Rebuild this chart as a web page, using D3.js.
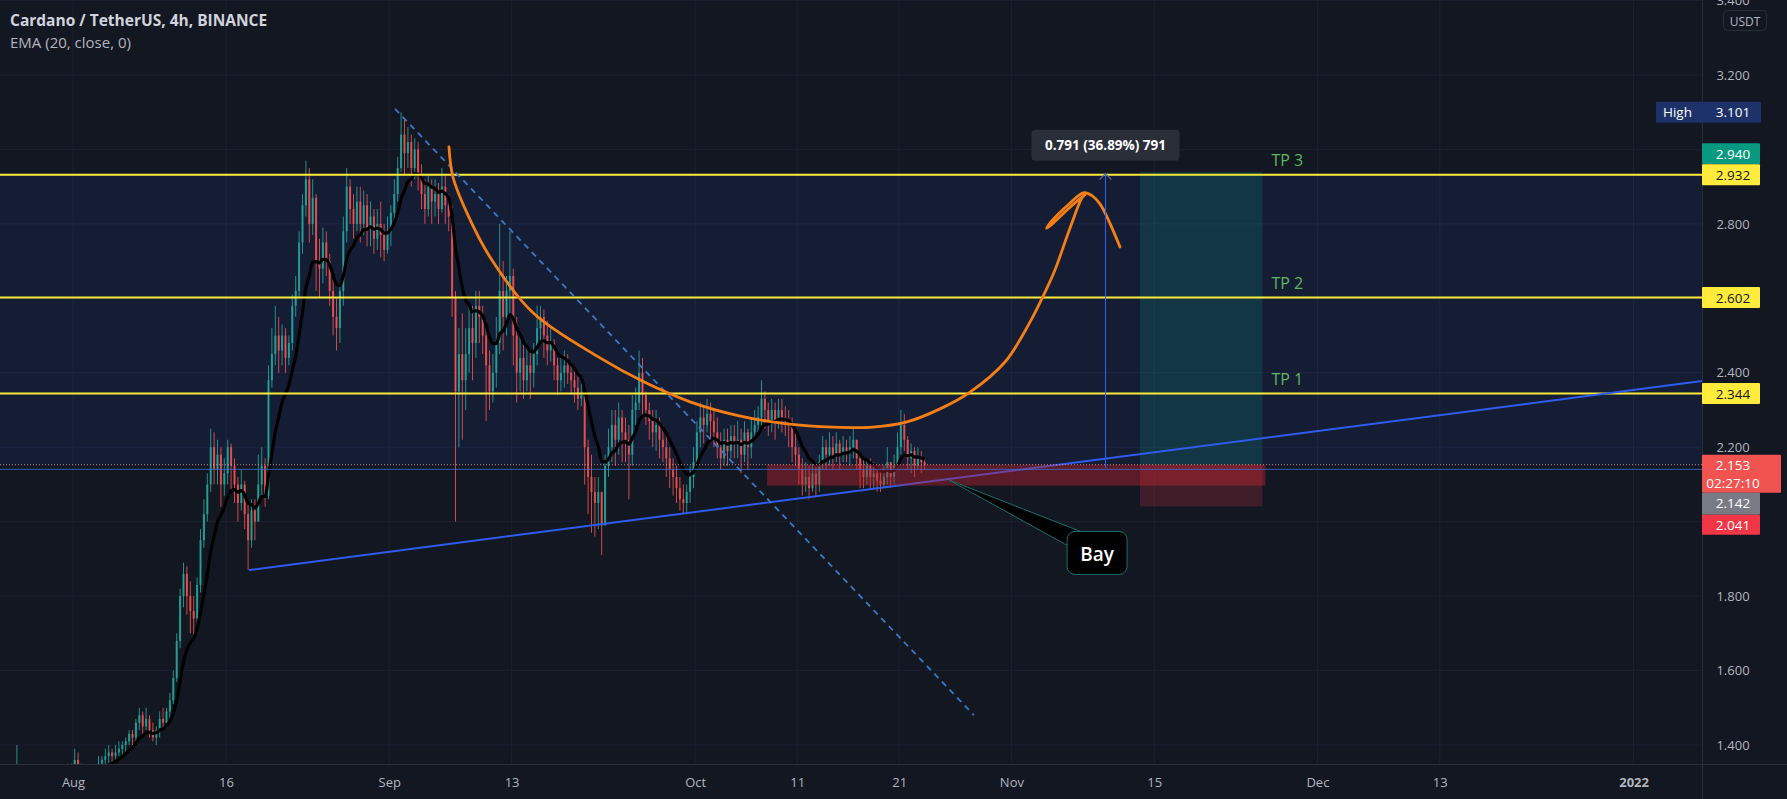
<!DOCTYPE html>
<html><head><meta charset="utf-8">
<script src="https://cdn.jsdelivr.net/npm/d3@7"></script>
<style>html,body{margin:0;padding:0;background:#131722;overflow:hidden}svg{display:block}</style>
</head><body><svg id="c" width="1787" height="799"></svg>
<script>
// ---------- DATA ----------
const startDate = Date.UTC(2021, 6, 26);   // first bar: Jul 26 2021 00:00 UTC
const barHours = 8;
const firstOpen = 1.25;
const closes = [
 1.27,1.33,1.30, 1.26,1.24,1.30, 1.31,1.29,1.30, 1.30,1.29,1.31, 1.28,1.29,1.32, 1.32,1.34,1.33, // Jul 26-31
 1.36,1.34,1.33, 1.32,1.30,1.31, 1.33,1.35,1.36, 1.37,1.38,1.37, 1.38,1.39,1.40, 1.41,1.43,1.42, // Aug 1-6
 1.46,1.48,1.45, 1.47,1.44,1.42, 1.44,1.47,1.46, 1.49,1.52,1.58, 1.68,1.80,1.86, 1.80,1.76,1.74, // Aug 7-12
 1.83,1.95,2.02, 2.10,2.20,2.14, 2.18,2.10,2.13, 2.20,2.15,2.10, 2.05,2.10,2.02, 1.95,2.03,2.00, // Aug 13-18
 2.10,2.15,2.07, 2.38,2.45,2.50, 2.46,2.50,2.44, 2.48,2.58,2.62, 2.75,2.85,2.92, 2.80,2.87,2.70, // Aug 19-24
 2.68,2.75,2.70, 2.62,2.55,2.52, 2.62,2.78,2.90, 2.84,2.80,2.86, 2.80,2.85,2.79, 2.82,2.76,2.80, // Aug 25-30
 2.77,2.73,2.78, 2.83,2.88,2.95, 3.04,2.99,3.02, 2.95,3.00,2.93, 2.88,2.84,2.90, 2.86,2.88,2.84, // Aug 31-Sep 5
 2.90,2.85,2.82, 2.60,2.35,2.45, 2.38,2.45,2.52, 2.48,2.58,2.55, 2.50,2.42,2.35, 2.40,2.48,2.62, // Sep 6-11
 2.55,2.62,2.66, 2.50,2.40,2.44, 2.38,2.42,2.40, 2.45,2.52,2.55, 2.50,2.46,2.48, 2.42,2.38,2.40, // Sep 12-17
 2.42,2.40,2.38, 2.36,2.33,2.34, 2.20,2.12,2.08, 2.05,2.08,1.99, 2.15,2.20,2.26, 2.22,2.28,2.24, // Sep 18-23
 2.22,2.18,2.30, 2.32,2.40,2.34, 2.30,2.27,2.24, 2.26,2.22,2.20, 2.17,2.14,2.12, 2.09,2.06,2.05, // Sep 24-29
 2.08,2.12,2.16, 2.24,2.28,2.26, 2.29,2.27,2.24, 2.20,2.17,2.22, 2.19,2.23,2.21, 2.22,2.18,2.24, // Sep 30-Oct 5
 2.20,2.24,2.26, 2.28,2.33,2.30, 2.27,2.30,2.27, 2.30,2.28,2.27, 2.26,2.20,2.18, 2.14,2.10,2.12, // Oct 6-11
 2.09,2.13,2.10, 2.16,2.20,2.18, 2.20,2.18,2.21, 2.18,2.20,2.19, 2.20,2.22,2.17, 2.14,2.12,2.15, // Oct 12-17
 2.12,2.13,2.11, 2.10,2.12,2.16, 2.12,2.15,2.20, 2.26,2.22,2.17, 2.19,2.15,2.17, 2.16,2.153        // Oct 18-23
];
const highs = [
 1.28,1.40,1.34, 1.31,1.28,1.31, 1.33,1.32,1.32, 1.32,1.31,1.33, 1.32,1.30,1.33, 1.34,1.35,1.35,
 1.39,1.38,1.35, 1.34,1.33,1.33, 1.34,1.37,1.37, 1.39,1.40,1.39, 1.40,1.41,1.41, 1.42,1.44,1.44,
 1.47,1.50,1.49, 1.50,1.48,1.46, 1.45,1.49,1.50, 1.50,1.54,1.60, 1.70,1.82,1.89, 1.88,1.84,1.80,
 1.85,1.98,2.06, 2.13,2.25,2.24, 2.22,2.20,2.17, 2.22,2.21,2.17, 2.12,2.14,2.11, 2.05,2.06,2.06,
 2.18,2.20,2.17, 2.42,2.52,2.58, 2.55,2.53,2.52, 2.50,2.61,2.66, 2.78,2.88,2.97, 2.95,2.92,2.88,
 2.76,2.79,2.78, 2.72,2.65,2.60, 2.64,2.82,2.95, 2.92,2.88,2.90, 2.90,2.89,2.88, 2.86,2.84,2.84,
 2.86,2.80,2.82, 2.85,2.92,2.98, 3.10,3.08,3.06, 3.04,3.03,3.02, 2.96,2.92,2.93, 2.92,2.92,2.91,
 2.95,2.93,2.88, 2.85,2.62,2.52, 2.56,2.52,2.58, 2.58,2.62,2.62, 2.58,2.54,2.46, 2.45,2.55,2.80,
 2.70,2.66,2.78, 2.68,2.55,2.50, 2.48,2.47,2.46, 2.48,2.58,2.58, 2.57,2.54,2.52, 2.49,2.44,2.44,
 2.46,2.45,2.43, 2.41,2.39,2.38, 2.35,2.22,2.18, 2.12,2.12,2.08, 2.18,2.25,2.30, 2.30,2.32,2.30,
 2.28,2.26,2.34, 2.36,2.46,2.44, 2.35,2.32,2.30, 2.30,2.28,2.26, 2.23,2.20,2.17, 2.15,2.12,2.10,
 2.10,2.15,2.20, 2.27,2.32,2.31, 2.33,2.32,2.30, 2.28,2.24,2.25, 2.25,2.26,2.26, 2.27,2.25,2.27,
 2.25,2.28,2.30, 2.31,2.38,2.35, 2.32,2.33,2.32, 2.33,2.33,2.31, 2.30,2.28,2.24, 2.20,2.17,2.16,
 2.15,2.16,2.15, 2.18,2.23,2.22, 2.24,2.23,2.24, 2.22,2.23,2.22, 2.23,2.25,2.22, 2.18,2.17,2.17,
 2.17,2.16,2.15, 2.14,2.15,2.20, 2.16,2.18,2.24, 2.30,2.29,2.23, 2.21,2.20,2.20, 2.19,2.17
];
const lows = [
 1.24,1.26,1.28, 1.24,1.21,1.23, 1.28,1.27,1.27, 1.28,1.27,1.28, 1.26,1.25,1.28, 1.30,1.31,1.31,
 1.32,1.33,1.31, 1.30,1.28,1.29, 1.30,1.32,1.33, 1.34,1.35,1.35, 1.36,1.37,1.37, 1.38,1.40,1.40,
 1.41,1.44,1.43, 1.44,1.42,1.41, 1.40,1.42,1.44, 1.45,1.47,1.51, 1.57,1.66,1.77, 1.75,1.70,1.68,
 1.72,1.81,1.93, 2.00,2.08,2.10, 2.10,2.04,2.07, 2.10,2.08,2.05, 2.00,2.03,1.98, 1.87,1.93,1.95,
 2.00,2.07,2.04, 2.06,2.36,2.42, 2.40,2.42,2.40, 2.42,2.46,2.55, 2.60,2.72,2.82, 2.75,2.77,2.62,
 2.60,2.64,2.66, 2.58,2.50,2.46, 2.48,2.58,2.75, 2.80,2.76,2.78, 2.75,2.77,2.74, 2.74,2.72,2.73,
 2.71,2.70,2.72, 2.74,2.80,2.86, 2.94,2.93,2.95, 2.90,2.92,2.89, 2.84,2.80,2.82, 2.80,2.82,2.80,
 2.83,2.80,2.78, 2.55,2.00,2.20, 2.22,2.30,2.40, 2.38,2.44,2.48, 2.45,2.27,2.30, 2.32,2.36,2.45,
 2.46,2.50,2.56, 2.42,2.32,2.35, 2.33,2.35,2.33, 2.36,2.42,2.48, 2.44,2.42,2.43, 2.38,2.34,2.35,
 2.36,2.37,2.34, 2.32,2.30,2.31, 2.10,2.02,1.97, 1.96,1.98,1.91, 2.05,2.12,2.16, 2.15,2.18,2.16,
 2.16,2.06,2.15, 2.26,2.30,2.28, 2.26,2.22,2.20, 2.19,2.17,2.16, 2.12,2.09,2.07, 2.05,2.03,2.02,
 2.02,2.05,2.09, 2.15,2.20,2.21, 2.24,2.22,2.20, 2.17,2.14,2.15, 2.15,2.17,2.17, 2.17,2.13,2.16,
 2.14,2.17,2.22, 2.24,2.26,2.25, 2.23,2.24,2.22, 2.25,2.24,2.23, 2.20,2.16,2.15, 2.10,2.07,2.08,
 2.06,2.08,2.07, 2.08,2.14,2.14, 2.15,2.14,2.16, 2.14,2.16,2.16, 2.15,2.17,2.14, 2.09,2.09,2.10,
 2.09,2.09,2.08, 2.08,2.09,2.10, 2.09,2.10,2.14, 2.18,2.19,2.14, 2.13,2.12,2.14, 2.13,2.14
];
const emaLength = 20;          // EMA (20, close) on 4h bars
const sourceBarHours = 4;

const xTickDates = ["2021-08-01","2021-08-16","2021-09-01","2021-09-13","2021-10-01","2021-10-11","2021-10-21","2021-11-01","2021-11-15","2021-12-01","2021-12-13","2022-01-01"];
const xTickLabels = ["Aug","16","Sep","13","Oct","11","21","Nov","15","Dec","13","2022"];
const yTickValues = [1.4, 1.6, 1.8, 2.2, 2.4, 2.8, 3.2, 3.4];
const gridPrices = [1.4,1.6,1.8,2.0,2.2,2.4,2.6,2.8,3.0,3.2,3.4];

const tpPrices = [2.932, 2.602, 2.344];
const tpLabels = ["TP 3", "TP 2", "TP 1"];
const lastPrice = 2.153, countdown = "02:27:10";
const entryPrice = 2.142, stopPrice = 2.041, targetPrice = 2.940, highPrice = 3.101;

// annotation anchors: [days after Aug 1 2021, price]
const supportLine = [[17.25, 1.870], [85.98, 2.115]];
const dashedLine = [[31.57, 3.109], [88.33, 1.480]];
const cupCurve = [[36.86,3.007],[37.25,2.926],[38.63,2.829],[40.88,2.711],[45.1,2.561],[51.67,2.440],[56.0,2.375],
  [60.5,2.322],[65.2,2.285],[70.0,2.263],[74.5,2.254],[78.43,2.254],[81.76,2.268],[85.0,2.303],[87.84,2.346],
  [91.37,2.429],[93.82,2.536],[95.39,2.622],[96.27,2.676],[97.75,2.789],[98.92,2.870],[99.25,2.880],
  [97.4,2.836],[95.9,2.797],[95.45,2.788],[95.9,2.806],[97.6,2.852],[99.1,2.884],[99.9,2.876],[100.7,2.853],[102.65,2.738]];
const blueZone = [2.932, 2.153];
const redZone = {from: 68.04, to: 116.9, top: 2.153, bottom: 2.097};
const position = {from: 104.6, to: 116.6, entry: 2.153, target: 2.940, stop: 2.041};
const measure = {day: 101.2, from: 2.144, to: 2.935, label: "0.791 (36.89%) 791"};
const bay = {tip: [85.88, 2.112], box: [100.4, 1.916], text: "Bay"};
const tpLabelDay = 117.5;

// ---------- SCALES ----------
const W = 1787, H = 799, plotR = 1702, plotB = 764;
const dayMs = 864e5, aug1 = Date.UTC(2021, 7, 1);
const x = d3.scaleUtc().domain([new Date(aug1), new Date(Date.UTC(2022,0,1))]).range([73, 1633.6]);
const y = d3.scaleLinear().domain([1.4, 3.2]).range([745, 75]);
const xd = d => x(new Date(aug1 + d * dayMs));

const svg = d3.select("#c");
const FONT = "'Open Sans', 'Noto Sans', Roboto, sans-serif";
svg.append("rect").attr("width", W).attr("height", H).attr("fill", "#131722");
svg.append("defs").append("clipPath").attr("id","plot").append("rect").attr("x",0).attr("y",0).attr("width",plotR).attr("height",plotB);
const plot = svg.append("g").attr("clip-path","url(#plot)");

// grid
plot.selectAll(".hg").data(gridPrices).join("line").attr("x1",0).attr("x2",plotR)
  .attr("y1",d=>y(d)).attr("y2",d=>y(d)).attr("stroke","#1c2030").attr("stroke-width",1);
plot.selectAll(".vg").data(xTickDates).join("line").attr("y1",0).attr("y2",plotB)
  .attr("x1",d=>x(new Date(d))).attr("x2",d=>x(new Date(d))).attr("stroke","#1c2030").attr("stroke-width",1);

// blue tinted zone
plot.append("rect").attr("x",0).attr("width",plotR).attr("y",y(blueZone[0])).attr("height",y(blueZone[1])-y(blueZone[0]))
  .attr("fill","rgba(41,98,255,0.09)");

// position target box (teal)
plot.append("rect").attr("x",xd(position.from)).attr("width",xd(position.to)-xd(position.from))
  .attr("y",y(position.target)).attr("height",y(position.entry)-y(position.target)).attr("fill","rgba(8,153,129,0.2)");

// candles
const barMs = barHours * 3600e3;
const bars = closes.map((c,i)=>({t: startDate + i*barMs, o: i ? closes[i-1] : firstOpen, c, h: highs[i], l: lows[i]}));
const bw = x(new Date(startDate + barMs)) - x(new Date(startDate));
const cx = d => x(new Date(d.t + barMs/2));
const up = "#26a69a", dn = "#ef5350";
const cg = plot.append("g");
cg.selectAll("line").data(bars).join("line")
  .attr("x1",cx).attr("x2",cx)
  .attr("y1",d=>y(Math.max(d.h,d.o,d.c))).attr("y2",d=>y(Math.min(d.l,d.o,d.c)))
  .attr("stroke",d=>d.c>=d.o?up:dn).attr("stroke-width",1).attr("opacity",0.85);
cg.selectAll("rect").data(bars).join("rect")
  .attr("x",d=>cx(d)-bw*0.3).attr("width",bw*0.6)
  .attr("y",d=>y(Math.max(d.o,d.c))).attr("height",d=>Math.max(1,Math.abs(y(d.o)-y(d.c))))
  .attr("fill",d=>d.c>=d.o?up:dn).attr("opacity",0.85);

// EMA
const alpha = 2 / (emaLength * sourceBarHours / barHours + 1);
let e = closes[0];
const ema = closes.map(c => (e = alpha*c + (1-alpha)*e));
plot.append("path").datum(bars.map((b,i)=>[cx(b), y(ema[i])]))
  .attr("d", d3.line().curve(d3.curveMonotoneX)).attr("fill","none").attr("stroke","#000").attr("stroke-width",3.2);

// yellow levels
plot.selectAll(".lvl").data(tpPrices).join("line").attr("x1",0).attr("x2",plotR)
  .attr("y1",d=>y(d)).attr("y2",d=>y(d)).attr("stroke","#ffeb3b").attr("stroke-width",2);

// support trend line (extends right)
{
  const [a,b] = supportLine;
  const x1 = xd(a[0]), y1 = y(a[1]), x2 = xd(b[0]), y2 = y(b[1]);
  const k = (y2-y1)/(x2-x1);
  plot.append("line").attr("x1",x1).attr("y1",y1).attr("x2",plotR).attr("y2",y1+k*(plotR-x1))
    .attr("stroke","#2f5cf0").attr("stroke-width",2);
}
// dashed descending line
plot.append("line").attr("x1",xd(dashedLine[0][0])).attr("y1",y(dashedLine[0][1]))
  .attr("x2",xd(dashedLine[1][0])).attr("y2",y(dashedLine[1][1]))
  .attr("stroke","#3a78c8").attr("stroke-width",1.8).attr("stroke-dasharray","6,5");

// red zone and stop box
plot.append("rect").attr("x",xd(redZone.from)).attr("width",xd(redZone.to)-xd(redZone.from))
  .attr("y",y(redZone.top)).attr("height",y(redZone.bottom)-y(redZone.top)).attr("fill","rgba(190,35,48,0.42)");
plot.append("rect").attr("x",xd(position.from)).attr("width",xd(position.to)-xd(position.from))
  .attr("y",y(position.entry)).attr("height",y(position.stop)-y(position.entry)).attr("fill","rgba(242,54,69,0.2)");

// price lines
plot.append("line").attr("x1",0).attr("x2",plotR).attr("y1",y(entryPrice)+0.5).attr("y2",y(entryPrice)+0.5)
  .attr("stroke","#3d6fe0").attr("stroke-width",1).attr("opacity",0.8);
plot.append("line").attr("x1",0).attr("x2",plotR).attr("y1",y(lastPrice)).attr("y2",y(lastPrice))
  .attr("stroke","#e8a0a8").attr("stroke-width",1).attr("stroke-dasharray","1,2").attr("opacity",0.8);

// cup curve
plot.append("path").datum(cupCurve.map(d=>[xd(d[0]), y(d[1])]))
  .attr("d", d3.line().curve(d3.curveCatmullRom.alpha(0.5))).attr("fill","none")
  .attr("stroke","#f57f17").attr("stroke-width",2.8).attr("stroke-linecap","round").attr("stroke-linejoin","round");

// measure tool
{
  const mx = Math.round(xd(measure.day)) + 0.5;
  plot.append("line").attr("x1",mx).attr("x2",mx).attr("y1",y(measure.to)).attr("y2",y(measure.from))
    .attr("stroke","#2962ff").attr("stroke-width",1);
  plot.append("path").attr("d",`M${mx-6},${y(measure.to)+6}L${mx},${y(measure.to)}L${mx+6},${y(measure.to)+6}`)
    .attr("fill","none").attr("stroke","#5a6e9c").attr("stroke-width",1.2);
  const lbW = 148, lbH = 31, lbY = y(measure.to) - 44;
  plot.append("rect").attr("x",mx-lbW/2).attr("y",lbY).attr("width",lbW).attr("height",lbH).attr("rx",4)
    .attr("fill","#2a2e39");
  plot.append("text").attr("x",mx).attr("y",lbY+lbH/2).attr("text-anchor","middle").attr("dominant-baseline","central")
    .attr("fill","#ffffff").attr("font-family",FONT).attr("font-size",13.5).attr("font-weight",700).text(measure.label);
}

// TP labels
plot.selectAll(".tp").data(tpPrices).join("text").attr("x",xd(tpLabelDay)).attr("y",d=>y(d)-15)
  .attr("dominant-baseline","central").attr("fill","#5cb85f").attr("font-family",FONT).attr("font-size",16)
  .text((d,i)=>tpLabels[i]);

// Bay callout
{
  const tx = xd(bay.tip[0]), ty = y(bay.tip[1]);
  const bx = xd(bay.box[0]), by = y(bay.box[1]);
  const bwid = 60, bh = 43, left = bx - bwid/2, top = by - bh/2;
  plot.append("path").attr("d",`M${tx},${ty}L${left+16},${top+1}L${left+2},${top+15}Z`)
    .attr("fill","#000").attr("stroke","#1d6f6c").attr("stroke-width",1);
  plot.append("rect").attr("x",left).attr("y",top).attr("width",bwid).attr("height",bh).attr("rx",8)
    .attr("fill","#000").attr("stroke","#1d6f6c").attr("stroke-width",1);
  plot.append("text").attr("x",bx).attr("y",by+1).attr("text-anchor","middle").attr("dominant-baseline","central")
    .attr("fill","#fff").attr("font-family",FONT).attr("font-size",19).attr("font-weight",600).text(bay.text);
}

// ---------- AXES ----------
svg.append("line").attr("x1",0).attr("x2",W).attr("y1",plotB+0.5).attr("y2",plotB+0.5).attr("stroke","#2a2e39");
svg.append("line").attr("x1",plotR+0.5).attr("x2",plotR+0.5).attr("y1",0).attr("y2",H).attr("stroke","#2a2e39");

const xAxis = d3.axisBottom(x).tickValues(xTickDates.map(d=>new Date(d))).tickFormat((d,i)=>xTickLabels[i]).tickSize(0).tickPadding(0);
const xg = svg.append("g").attr("transform",`translate(0,${plotB})`).call(xAxis);
xg.select(".domain").remove();
xg.selectAll("text").attr("y",18).attr("dy","0.35em").attr("fill","#b2b5be").attr("font-family",FONT).attr("font-size",13)
  .attr("font-weight",(d,i)=>xTickLabels[i]==="2022"?700:400);

const yAxis = d3.axisRight(y).tickValues(yTickValues).tickFormat(d3.format(".3f")).tickSize(0).tickPadding(0);
const yg = svg.append("g").attr("transform",`translate(${plotR},0)`).call(yAxis);
yg.select(".domain").remove();
yg.selectAll("text").attr("x",31).attr("text-anchor","middle").attr("fill","#b2b5be").attr("font-family",FONT).attr("font-size",13);

// USDT badge
svg.append("rect").attr("x",1723.5).attr("y",10.5).attr("width",43).attr("height",20).attr("rx",4)
  .attr("fill","#131722").attr("stroke","#2a2e39");
svg.append("text").attr("x",1745).attr("y",21).attr("text-anchor","middle").attr("dominant-baseline","central")
  .attr("fill","#b2b5be").attr("font-family",FONT).attr("font-size",12).text("USDT");

// price labels
function priceBox(top, h, fill, color, lines, w, left) {
  const x0 = left === undefined ? plotR : left;
  svg.append("rect").attr("x",x0).attr("y",top).attr("width",w + (plotR - x0)).attr("height",h).attr("fill",fill).attr("rx",1);
  lines.forEach((t,i)=>{
    svg.append("text").attr("x",plotR+31).attr("y",top + 10.5 + i*18).attr("text-anchor","middle").attr("dominant-baseline","central")
      .attr("fill",color).attr("font-family",FONT).attr("font-size",13.5).text(t);
  });
}
const fmt = d3.format(".3f");
// High
priceBox(y(highPrice)-10, 21, "#1c3268", "#ffffff", [fmt(highPrice)], 59, 1656);
svg.append("text").attr("x",1663).attr("y",y(highPrice)+0.5).attr("dominant-baseline","central")
  .attr("fill","#ffffff").attr("font-family",FONT).attr("font-size",13.5).text("High");
// target / TP levels
const t3top = y(tpPrices[0]) - 10.5;
priceBox(t3top - 21, 21, "#089981", "#ffffff", [fmt(targetPrice)], 58);
tpPrices.forEach(p => priceBox(y(p) - 10.5, 21, "#ffeb3b", "#131722", [fmt(p)], 58));
// last price stack
const lpTop = y(lastPrice) - 10;
priceBox(lpTop, 38, "#f05350", "#ffffff", [fmt(lastPrice), countdown], 79);
priceBox(lpTop + 38, 22, "#787b86", "#ffffff", [fmt(entryPrice)], 58);
priceBox(lpTop + 60, 20, "#f23645", "#ffffff", [fmt(stopPrice)], 58);

// title
svg.append("text").attr("x",10).attr("y",26).attr("fill","#d1d4dc").attr("font-family",FONT).attr("font-size",15.5)
  .attr("font-weight",700).text("Cardano / TetherUS, 4h, BINANCE");
svg.append("text").attr("x",10).attr("y",48).attr("fill","#b2b5be").attr("font-family",FONT).attr("font-size",15)
  .text("EMA (20, close, 0)");
</script>
</body></html>
